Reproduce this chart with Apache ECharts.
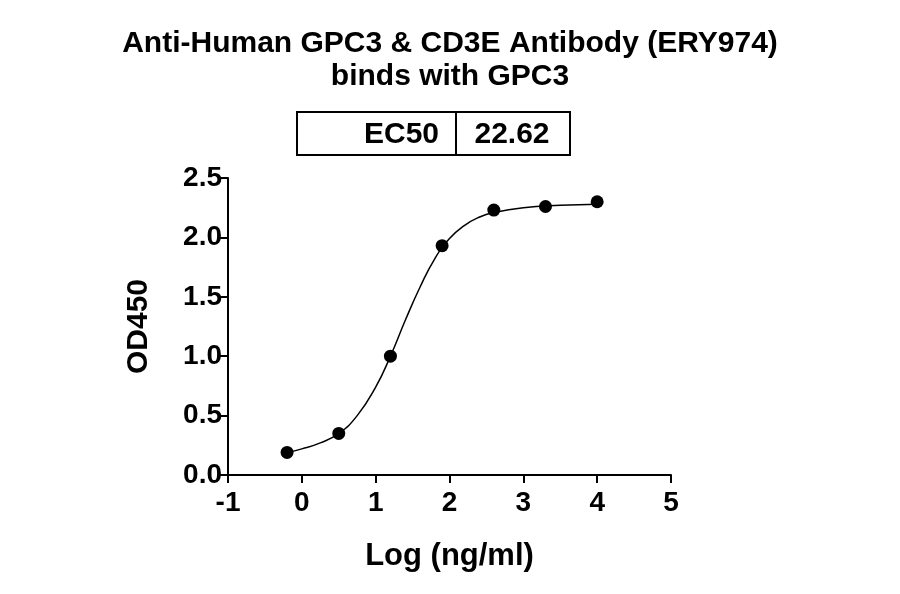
<!DOCTYPE html>
<html><head><meta charset="utf-8">
<script src="https://cdn.jsdelivr.net/npm/echarts@6/dist/echarts.min.js"></script>
<style>html,body{margin:0;padding:0;background:#fff}#c{width:900px;height:594px}</style>
</head><body><div id="c"></div>
<script>
const titleLines = ["Anti-Human GPC3 & CD3E Antibody (ERY974)", "binds with GPC3"];
const ec50Label = "EC50";
const ec50Value = "22.62";
const pointX = [-0.2, 0.5, 1.2, 1.9, 2.6, 3.3, 4.0];
const pointY = [0.19, 0.35, 1.0, 1.93, 2.23, 2.26, 2.30];
const curveX = [-0.2, 0, 0.25, 0.5, 0.75, 1.0, 1.2, 1.4, 1.6, 1.8, 2.0, 2.2, 2.4, 2.6, 3.0, 3.5, 4.0];
const curveY = [0.19, 0.22, 0.27, 0.35, 0.50, 0.74, 1.0, 1.30, 1.58, 1.82, 1.99, 2.10, 2.17, 2.21, 2.25, 2.27, 2.28];
const xTicks = [-1, 0, 1, 2, 3, 4, 5];
const yTicks = [0.0, 0.5, 1.0, 1.5, 2.0, 2.5];

const font = 'Liberation Sans, Arial, sans-serif';
const chart = echarts.init(document.getElementById('c'));
chart.setOption({
  animation: false,
  title: {
    text: titleLines.join('\n'), left: 'center', top: 22,
    textStyle: {fontFamily: font, fontSize: 30, fontWeight: 'bold', color: '#000', lineHeight: 33}
  },
  grid: {left: 228, right: 229, top: 178, bottom: 119},
  xAxis: {
    type: 'value', min: xTicks[0], max: xTicks[xTicks.length-1], interval: 1,
    name: 'Log (ng/ml)', nameLocation: 'middle', nameGap: 66,
    nameTextStyle: {fontFamily: font, fontSize: 31, fontWeight: 'bold', color: '#000'},
    axisLine: {onZero: false, lineStyle: {color: '#000', width: 2}},
    axisTick: {length: 8, lineStyle: {color: '#000', width: 2}},
    axisLabel: {fontFamily: font, fontSize: 28, fontWeight: 'bold', color: '#000', margin: 14},
    splitLine: {show: false}
  },
  yAxis: {
    type: 'value', min: 0, max: 2.5, interval: 0.5,
    name: 'OD450', nameLocation: 'middle', nameGap: 74,
    nameTextStyle: {fontFamily: font, fontSize: 30, fontWeight: 'bold', color: '#000'},
    axisLine: {show: true, onZero: false, lineStyle: {color: '#000', width: 2}},
    axisTick: {show: true, length: 8, lineStyle: {color: '#000', width: 2}},
    axisLabel: {fontFamily: font, fontSize: 28, fontWeight: 'bold', color: '#000', margin: 6,
      formatter: v => v.toFixed(1)},
    splitLine: {show: false}
  },
  series: [
    {type: 'line', smooth: true, symbol: 'none', lineStyle: {color: '#000', width: 1.5},
     data: curveX.map((x, i) => [x, curveY[i]])},
    {type: 'scatter', symbolSize: 13, itemStyle: {color: '#000', opacity: 1},
     data: pointX.map((x, i) => [x, pointY[i]])}
  ],
  graphic: [
    {type: 'rect', shape: {x: 297, y: 112, width: 273, height: 43}, style: {fill: '#fff', stroke: '#000', lineWidth: 2}},
    {type: 'line', shape: {x1: 456, y1: 112, x2: 456, y2: 155}, style: {stroke: '#000', lineWidth: 2}},
    {type: 'text', x: 439, y: 135, style: {text: ec50Label, fontFamily: font, fontSize: 30, fontWeight: 'bold', fill: '#000', align: 'right', verticalAlign: 'middle'}},
    {type: 'text', x: 512, y: 135, style: {text: ec50Value, fontFamily: font, fontSize: 30, fontWeight: 'bold', fill: '#000', align: 'center', verticalAlign: 'middle'}}
  ]
});
</script></body></html>
